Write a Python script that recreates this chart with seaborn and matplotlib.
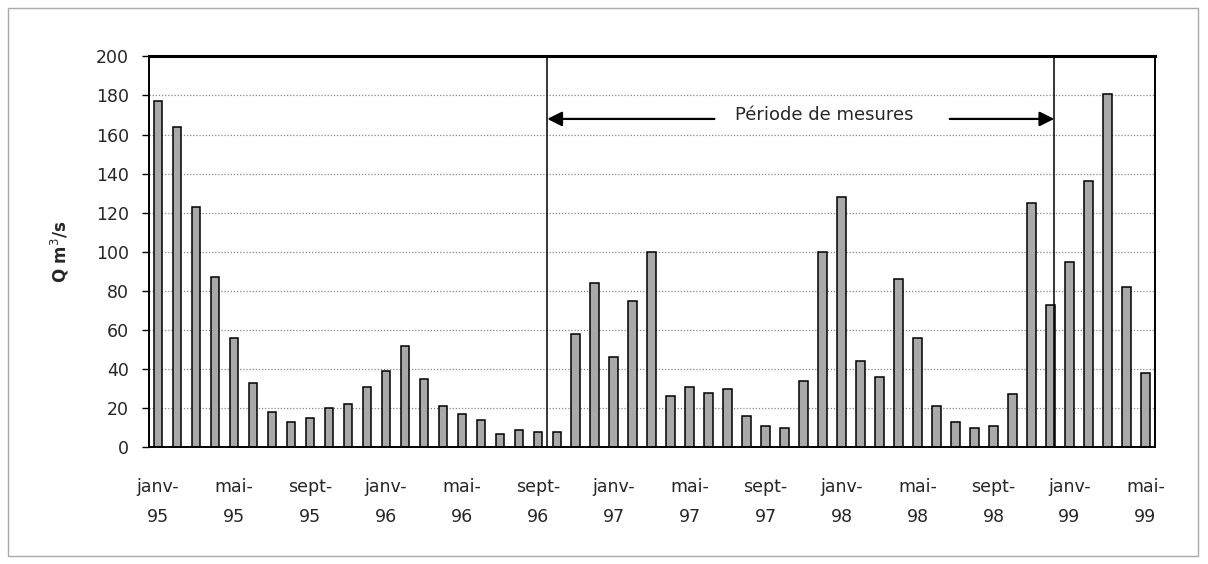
import matplotlib.pyplot as plt
import matplotlib.patches as patches
import seaborn as sns
import pandas as pd

months = ["janv", "févr", "mars", "avr", "mai", "juin",
          "juil", "août", "sept", "oct", "nov", "déc"]
years = ["95", "96", "97", "98", "99"]
periods = [m + "-" + y for y in years for m in months][:53]

debit = [177, 164, 123, 87, 56, 33, 18, 13, 15, 20, 22, 31,
         39, 52, 35, 21, 17, 14, 7, 9, 8, 8, 58, 84,
         46, 75, 100, 26, 31, 28, 30, 16, 11, 10, 34, 100,
         128, 44, 36, 86, 56, 21, 13, 10, 11, 27, 125, 73,
         95, 136, 181, 82, 38]

yticks = [0, 20, 40, 60, 80, 100, 120, 140, 160, 180, 200]
debut_mesures = 20.5
fin_mesures = 47.2

df = pd.DataFrame({"periode": periods, "Q": debit})

sns.set_style("white")
plt.rcParams["font.family"] = ["DejaVu Sans"]

fig = plt.figure(figsize=(12.08, 5.64), dpi=100)
ax = fig.add_axes([0.123, 0.207, 0.833, 0.693])

sns.barplot(
    data=df,
    x="periode",
    y="Q",
    order=periods,
    color="#a9a9a9",
    edgecolor="black",
    linewidth=1.1,
    width=0.45,
    saturation=1,
    ax=ax
)

ax.set_ylim(0, 200)
ax.set_xlim(-0.5, len(periods) - 0.5)
ax.set_yticks(yticks)
ax.set_yticklabels([str(v) for v in yticks], fontsize=12.5)

# gridlines
for v in yticks[1:-1]:
    ax.axhline(v, color="#888888", linestyle=(0, (1, 1.5)),
               linewidth=0.9, zorder=0)

# x labels every 4 months
lab_pos = list(range(0, len(periods), 4))
ax.set_xticks(lab_pos)
ax.set_xticklabels(
    [periods[i].replace("-", "-\n") for i in lab_pos],
    fontsize=12.5,
    linespacing=1.85
)
ax.tick_params(axis="x", which="major", length=0, pad=22)
ax.set_xticks([p - 0.5 for p in lab_pos] + [len(periods) - 0.5], minor=True)
ax.tick_params(axis="x", which="minor", length=6, width=1,
               direction="out", color="black")
ax.tick_params(axis="y", length=5, width=1, direction="out",
               color="black", left=True, pad=9)

ax.set_xlabel("")
ax.set_ylabel("Q m$^3$/s", fontsize=12, fontweight="bold", labelpad=18)

for side in ["left", "right", "bottom"]:
    ax.spines[side].set_visible(True)
    ax.spines[side].set_color("black")
    ax.spines[side].set_linewidth(1.4)
ax.spines["top"].set_visible(True)
ax.spines["top"].set_color("black")
ax.spines["top"].set_linewidth(2.2)

# measurement period
ax.axvline(debut_mesures, color="black", linewidth=1.1)
ax.axvline(fin_mesures, color="black", linewidth=1.1)
mid = 35.1
ax.text(mid, 170, "Période de mesures", ha="center", va="center",
        fontsize=13)
ax.annotate("", xy=(debut_mesures, 168), xytext=(29.3, 168),
            arrowprops=dict(arrowstyle="-|>", color="black", lw=1.6,
                            mutation_scale=22, shrinkA=0, shrinkB=0))
ax.annotate("", xy=(fin_mesures, 168), xytext=(41.7, 168),
            arrowprops=dict(arrowstyle="-|>", color="black", lw=1.6,
                            mutation_scale=22, shrinkA=0, shrinkB=0))

# outer frame
fig.patches.append(patches.Rectangle(
    (0.007, 0.015), 0.985, 0.97, transform=fig.transFigure,
    fill=False, edgecolor="#aaaaaa", linewidth=1.0
))

fig.savefig("out.png", dpi=100)
plt.close()
